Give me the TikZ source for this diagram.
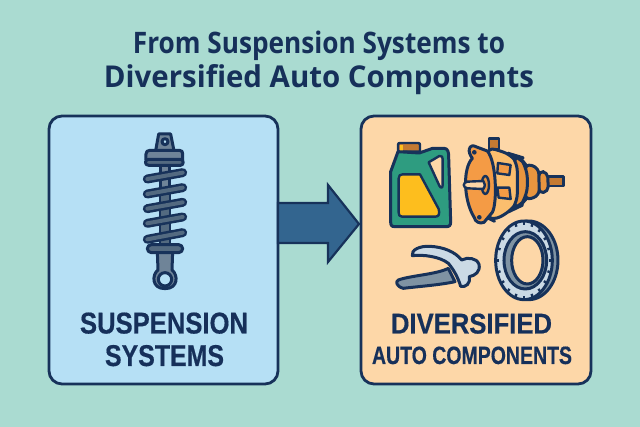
\documentclass[tikz,border=0pt]{standalone}
\usepackage{fontspec}
\setmainfont{Open Sans}[BoldFont={Open Sans Bold}]
\newfontfamily\labelfont{Liberation Sans}[BoldFeatures={FakeBold=0.5}]
\definecolor{bgc}{HTML}{AADBD1}
\definecolor{navy}{HTML}{17325A}
\definecolor{titlec}{HTML}{16305A}
\definecolor{bluebox}{HTML}{B6E0F5}
\definecolor{orangebox}{HTML}{FDD7A8}
\definecolor{arrowc}{HTML}{33658F}
\definecolor{steel}{HTML}{6F8498}
\definecolor{steeld}{HTML}{536A80}
\definecolor{jug}{HTML}{2E9C80}
\definecolor{yel}{HTML}{FDBE1E}
\definecolor{capc}{HTML}{C47A32}
\definecolor{org}{HTML}{F49B45}
\definecolor{orgl}{HTML}{FBBE6E}
\definecolor{orgd}{HTML}{E8953F}
\definecolor{silver}{HTML}{CBDAE5}
\definecolor{greyd}{HTML}{7F93A3}
\tikzset{
 panel/.style={draw=navy,line width=2.8pt,rounded corners=13pt},
 ink/.style={draw=navy,line width=3pt,line join=round,line cap=round},
 inkthin/.style={draw=navy,line width=2.4pt,line join=round,line cap=round},
 label/.style={inner sep=0pt,anchor=base,text=titlec,font=\bfseries},
 panellabel/.style={inner sep=0pt,anchor=base,text=titlec,font=\labelfont\bfseries},
}
\newcommand{\fit}[3]{\resizebox{#1pt}{#2pt}{#3}}
\begin{document}
\begin{tikzpicture}[x=1pt,y=-1pt]
\useasboundingbox (0,0) rectangle (640,427);
\fill[bgc] (0,0) rectangle (640,427);
% title
\node[label] (t1) at (319,53.5) {\fit{372}{22.5}{From Suspension Systems to}};
\node[label] (t2) at (319,88) {\fit{430}{23}{Diversified Auto Components}};
% panels
\draw[panel,fill=bluebox] (49,116) rectangle (278,384);
\draw[panel,fill=orangebox] (361,116) rectangle (591,384);
% arrow
\draw[draw=navy,line width=2.2pt,line join=miter,fill=arrowc]
  (278,203) -- (328,203) -- (328,185) -- (359,224) -- (328,262) -- (328,243) -- (278,243) -- cycle;
% shock absorber
\begin{scope}[shift={(110,120)},x=0.3333pt,y=-0.3333pt]
 \draw[ink,fill=steel] (152,130) rectangle (178,380);
 \fill[steeld] (154,225) rectangle (176,375);
 % lower eye
 \draw[ink,fill=steel] (142,395) -- (188,395) -- (186,450) .. controls (205,465) and (205,506) .. (165,506) .. controls (125,506) and (125,465) .. (144,450) -- cycle;
 \draw[ink,fill=bluebox] (165,478) circle (20);
 \draw[ink,fill=steeld,rounded corners=4pt] (112,374) rectangle (218,398);
 % coils
 \foreach \ya/\yb in {177/158, 222/203, 266/247, 310/291, 358/338}{
  \draw[navy,line width=9pt,line cap=round] (112,\ya) -- (218,\yb);
  \draw[steeld,line width=4pt,line cap=round] (112,\ya) -- (218,\yb);
 }
 % top mount
 \draw[ink,fill=steel] (137,92) -- (146,42) -- (182,42) -- (192,92) -- cycle;
 \draw[ink,fill=bluebox] (165,65) circle (9);
 \draw[ink,fill=steel] (108,120) -- (108,102) .. controls (108,95) and (112,91) .. (120,91) -- (208,91) .. controls (216,91) and (218,95) .. (218,102) -- (218,120) -- cycle;
 \draw[ink,fill=steeld] (116,118) -- (212,118) .. controls (222,118) and (222,136) .. (212,136) -- (116,136) .. controls (103,136) and (103,118) .. (116,118) -- cycle;
\end{scope}
% jug and motor
\begin{scope}[shift={(380,125)},x=0.3333pt,y=-0.3333pt]
 \draw[inkthin,fill=capc] (54,80) -- (54,60) .. controls (54,55) and (56,54) .. (60,54) -- (114,54) .. controls (119,54) and (120,56) .. (120,60) -- (120,80) -- cycle;
 \fill[yel] (59,59) rectangle (68,77);
 \draw[ink,fill=jug] (54,80) -- (118,84) -- (158,70) -- (192,70) .. controls (204,70) and (206,82) .. (206,95)
  -- (212,290) .. controls (212,302) and (208,305) .. (198,305) -- (44,305) .. controls (34,305) and (32,300) .. (32,290)
  -- (32,140) -- cycle;
 \draw[inkthin,fill=orangebox] (146,112) -- (178,93) .. controls (186,92) and (188,96) .. (188,102) -- (188,180) .. controls (188,190) and (182,190) .. (178,182) -- cycle;
 \draw[inkthin,fill=yel] (56,160) .. controls (56,152) and (60,148) .. (68,148) -- (120,148) -- (176,252) .. controls (180,268) and (176,275) .. (166,275) -- (66,275) .. controls (58,275) and (56,270) .. (56,262) -- cycle;
 % motor
 \draw[inkthin,fill=capc] (327,40) rectangle (357,72);
 \draw[inkthin,fill=capc] (500,155) -- (550,155) -- (550,183) -- (500,183) -- cycle;
 \draw[ink,fill=orgd,rounded corners=5pt] (476,138) -- (503,142) -- (505,200) -- (476,205) -- cycle;
 \draw[ink,fill=orgd,rounded corners=6pt] (436,116) -- (476,128) -- (478,212) -- (436,226) -- cycle;
 \draw[ink,fill=orgd,rounded corners=12pt] (395,88) -- (418,95) -- (442,125) -- (442,218) -- (418,245) -- (395,256) -- cycle;
 \draw[ink,fill=orgl,rounded corners=8pt] (322,66) -- (392,88) -- (412,115) -- (412,230) -- (392,258) -- (340,287) -- (322,278) -- cycle;
 \draw[inkthin,fill=org] (354,114) -- (392,120) -- (388,150) -- (352,145) -- cycle;
 \draw[inkthin,fill=org] (352,188) -- (388,188) -- (392,222) -- (356,218) -- cycle;
 \draw[ink,fill=org] (268,72) .. controls (270,62) and (280,60) .. (290,66) -- (322,78) .. controls (350,110) and (352,235) .. (337,262) -- (312,292) .. controls (300,298) and (285,290) .. (283,278) .. controls (250,225) and (248,130) .. (277,100) .. controls (270,90) and (266,80) .. (268,72) -- cycle;
 \fill[navy] (283,82) circle (7);
 \fill[navy] (298,277) circle (7);
 \draw[inkthin,fill=orgd] (316,180) ellipse (11 and 27);
 \draw[inkthin,fill=orangebox] (310,168) -- (262,170) .. controls (248,172) and (248,188) .. (262,190) -- (310,192) .. controls (316,182) and (316,176) .. (310,168) -- cycle;
\end{scope}
% part and ring
\begin{scope}[shift={(380,215)},x=0.3333pt,y=-0.3333pt]
 \draw[ink,fill=greyd] (205,160) -- (225,200) .. controls (180,210) and (110,215) .. (70,220) .. controls (50,215) and (45,200) .. (55,195) .. controls (90,182) and (170,178) .. (205,160) -- cycle;
 \draw[ink,fill=silver] (97,122) .. controls (92,105) and (120,92) .. (150,94) .. controls (190,96) and (225,110) .. (245,135)
   .. controls (262,126) and (290,128) .. (297,148) .. controls (302,170) and (285,182) .. (268,185)
   .. controls (272,205) and (258,218) .. (242,214) .. controls (235,190) and (222,165) .. (205,145) .. controls (180,125) and (130,118) .. (97,122) -- cycle;
 % ring
 \draw[ink,fill=greyd] (446,136) ellipse (88 and 118);
 \draw[ink,fill=silver] (432,136) ellipse (85 and 118);
 \foreach \a in {0,18,...,342}{
   \draw[navy,line width=2.4pt] ({432+85*cos(\a)},{136+118*sin(\a)}) -- ({432+74*cos(\a)},{136+106*sin(\a)});
 }
 \draw[ink,fill=greyd] (436,136) ellipse (64 and 86);
 \draw[ink,fill=orangebox] (442,136) ellipse (47 and 71);
\end{scope}
% labels
\node[panellabel] (l1) at (164,333.5) {\fit{168}{21}{SUSPENSION}};
\node[panellabel] (l2) at (164.5,366) {\fit{119}{21}{SYSTEMS}};
\node[panellabel] (r1) at (471.5,333.5) {\fit{161}{20}{DIVERSIFIED}};
\node[panellabel] (r2) at (472,364) {\fit{200}{17.5}{AUTO COMPONENTS}};
\end{tikzpicture}
\end{document}
